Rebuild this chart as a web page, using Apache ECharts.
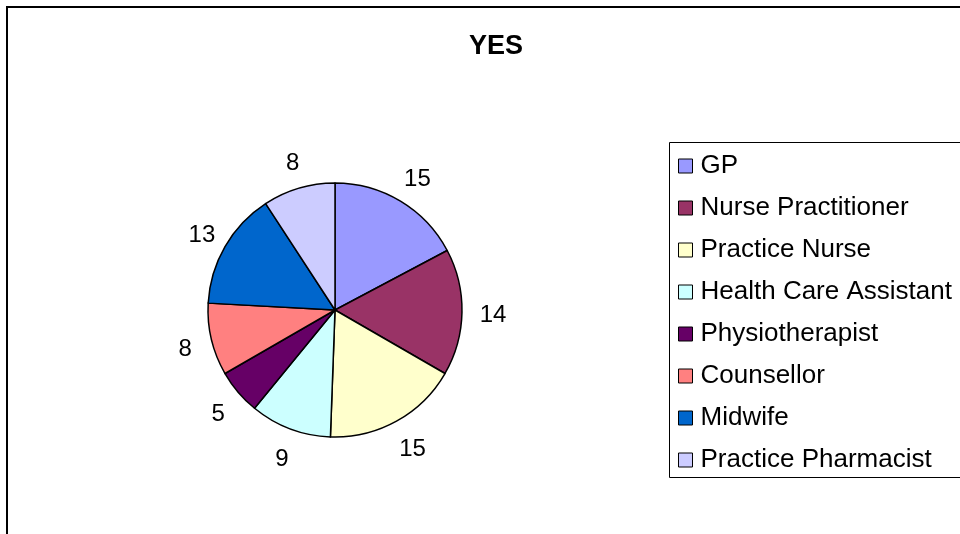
<!DOCTYPE html>
<html>
<head>
<meta charset="utf-8">
<script src="https://cdn.jsdelivr.net/npm/echarts@6/dist/echarts.min.js"></script>
<style>html,body{margin:0;padding:0;background:#fff;}#c{width:960px;height:534px;}</style>
</head>
<body>
<div id="c"></div>
<script>
const categories = ['GP','Nurse Practitioner','Practice Nurse','Health Care Assistant','Physiotherapist','Counsellor','Midwife','Practice Pharmacist'];
const values = [15,14,15,9,5,8,13,8];
const colors = ['#9999FF','#993366','#FFFFCC','#CCFFFF','#660066','#FF8080','#0066CC','#CCCCFF'];
const titleText = 'YES';

const chart = echarts.init(document.getElementById('c'));
const font = 'Arial, "Liberation Sans", sans-serif';
const pieData = categories.map((n, i) => ({name: n, value: values[i]}));
chart.setOption({
  animation: false,
  backgroundColor: '#fff',
  color: colors,
  title: {
    text: titleText, left: 491, top: 28, textAlign: 'center',
    textStyle: {fontFamily: font, fontSize: 27, fontWeight: 'bold', color: '#000'}
  },
  legend: {
    orient: 'vertical', left: 678, top: 153, padding: 0,
    itemWidth: 14, itemHeight: 14, itemGap: 16,
    icon: 'rect',
    itemStyle: {borderColor: '#000', borderWidth: 1},
    textStyle: {fontFamily: font, fontSize: 26, lineHeight: 26, color: '#000', padding: [0,0,0,3]},
    data: categories
  },
  graphic: [
    {type: 'rect', shape: {x: 7, y: 7, width: 1000, height: 1000}, style: {fill: 'none', stroke: '#000', lineWidth: 2}, z: -1},
    {type: 'rect', shape: {x: 669.5, y: 142.5, width: 400, height: 335}, style: {fill: 'none', stroke: '#000', lineWidth: 1}, z: -1}
  ],
  series: [{
    type: 'pie',
    center: [335, 310], radius: 127,
    startAngle: 90, clockwise: true,
    itemStyle: {borderColor: '#000', borderWidth: 1.5},
    label: {show: false},
    labelLine: {show: false},
    emphasis: {disabled: true},
    data: pieData
  }, {
    type: 'pie',
    center: [337, 313], radius: [141, 165],
    startAngle: 90, clockwise: true, silent: true,
    itemStyle: {color: 'rgba(0,0,0,0)', borderWidth: 0},
    label: {show: true, position: 'inside', formatter: '{c}', fontFamily: font, fontSize: 24, color: '#000'},
    labelLine: {show: false},
    emphasis: {disabled: true},
    data: pieData
  }]
});
</script>
</body>
</html>
